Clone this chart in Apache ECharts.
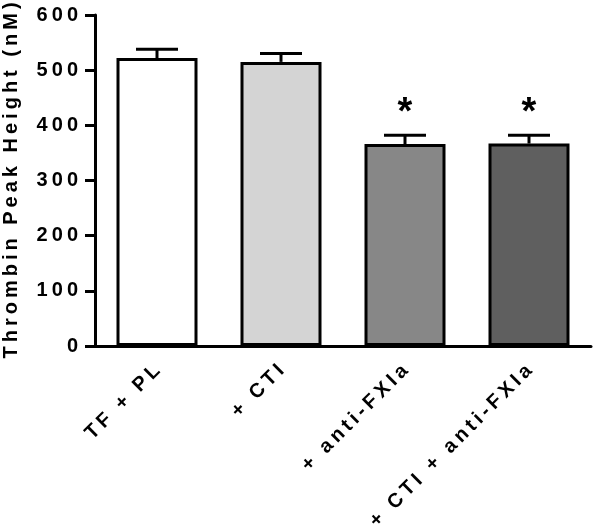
<!DOCTYPE html>
<html>
<head>
<meta charset="utf-8">
<script src="https://cdn.jsdelivr.net/npm/echarts@6/dist/echarts.min.js"></script>
<style>
  html, body { margin: 0; padding: 0; background: #fff; }
  #chart { width: 601px; height: 530px; }
</style>
</head>
<body>
<div id="chart"></div>
<script>
// 数据
const categories = ['TF + PL', '+ CTI', '+ anti-FXIa', '+ CTI + anti-FXIa'];
const peakHeight = [522, 515, 366, 367];
const sem = [16, 15, 16, 15];
const marks = ['', '', '*', '*'];
const yTicks = [0, 100, 200, 300, 400, 500, 600];

// 字间距：用细空格拉开字母
const spaced = s => String(s).split('').join('\u2009');
const font = 'Liberation Sans, Arial, sans-serif';
const fills = ['#ffffff', '#d4d4d4', '#878787', '#5f5f5f'];

const myChart = echarts.init(document.getElementById('chart'));

const options = {
  animation: false,
  // 固定绘图区，不因标签溢出而收缩
  grid: { left: 95, right: 10, top: 15, bottom: 184, outerBoundsMode: 'none', containLabel: false },
  xAxis: {
    type: 'category',
    data: categories,
    axisLine: { lineStyle: { color: '#000', width: 3 } },
    axisTick: { alignWithLabel: true, length: 10, lineStyle: { color: '#000', width: 3 } },
    axisLabel: {
      rotate: 45,
      margin: 22,
      color: '#000',
      fontFamily: font,
      fontWeight: 'bold',
      fontSize: 20,
      formatter: spaced
    }
  },
  yAxis: {
    type: 'value',
    min: yTicks[0],
    max: yTicks[yTicks.length - 1],
    interval: 100,
    name: spaced('Thrombin Peak Height (nM)'),
    nameLocation: 'middle',
    nameGap: 74,
    nameTextStyle: { color: '#000', fontFamily: font, fontWeight: 'bold', fontSize: 20 },
    splitLine: { show: false },
    axisLine: { show: true, lineStyle: { color: '#000', width: 3 } },
    axisTick: { show: true, length: 10, lineStyle: { color: '#000', width: 3 } },
    axisLabel: {
      margin: 17,
      color: '#000',
      fontFamily: font,
      fontWeight: 'bold',
      fontSize: 20,
      formatter: spaced
    }
  },
  series: [
    {
      type: 'bar',
      barWidth: 81,
      data: peakHeight.map((v, i) => ({
        value: v,
        itemStyle: { color: fills[i], borderColor: '#000', borderWidth: 3 }
      })),
      z: 3
    },
    {
      // 误差线 + 显著性星号
      type: 'custom',
      z: 4,
      data: categories.map((c, i) => [i, peakHeight[i], sem[i]]),
      renderItem: (params, api) => {
        const i = params.dataIndex;
        const base = api.coord([api.value(0), api.value(1)]);
        const top = api.coord([api.value(0), api.value(1) + api.value(2)]);
        const half = 21;
        const st = { stroke: '#000', lineWidth: 3 };
        const children = [
          { type: 'line', shape: { x1: base[0], y1: base[1], x2: top[0], y2: top[1] }, style: st },
          { type: 'line', shape: { x1: top[0] - half, y1: top[1], x2: top[0] + half, y2: top[1] }, style: st }
        ];
        if (marks[i]) {
          children.push({
            type: 'text',
            x: top[0],
            y: top[1] - 22,
            style: {
              text: marks[i],
              fill: '#000',
              fontFamily: font,
              fontWeight: 'bold',
              fontSize: 38,
              align: 'center',
              verticalAlign: 'middle'
            }
          });
        }
        return { type: 'group', children };
      }
    }
  ]
};

myChart.setOption(options);
</script>
</body>
</html>
